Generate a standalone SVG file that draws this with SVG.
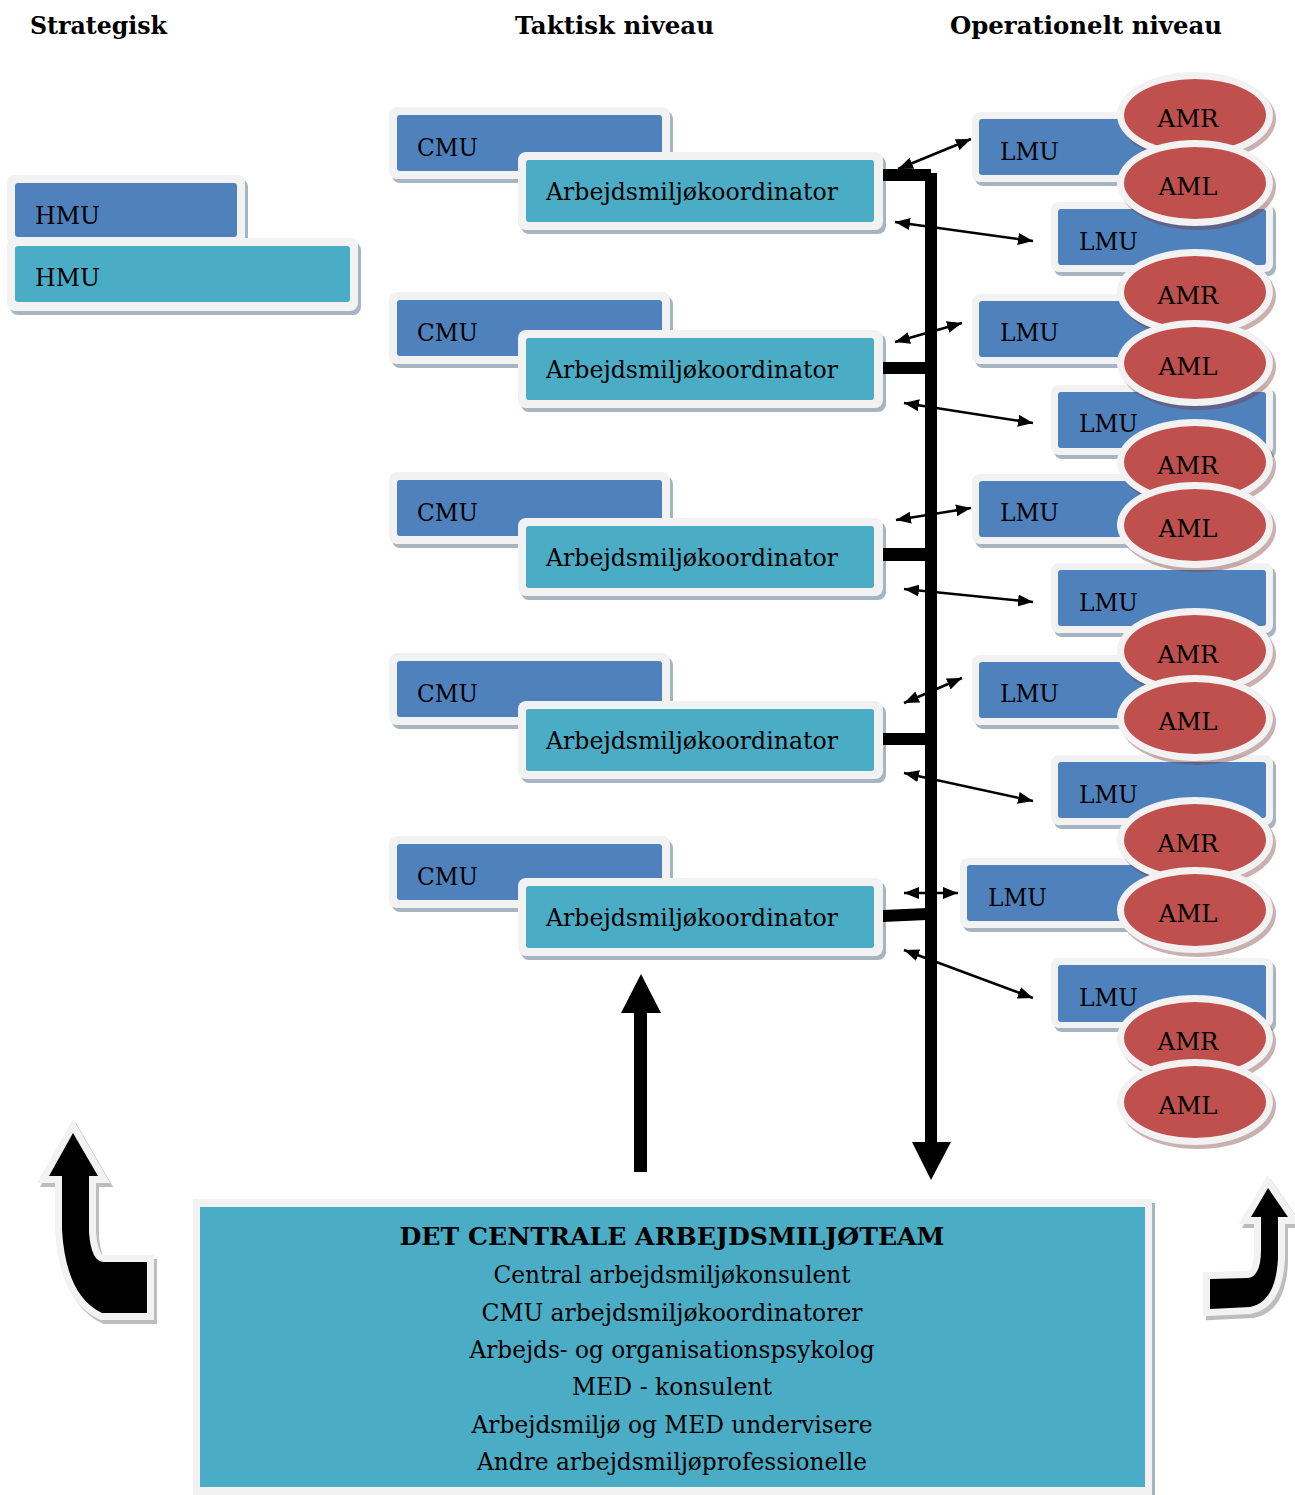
<svg xmlns="http://www.w3.org/2000/svg" width="1295" height="1495" viewBox="0 0 1295 1495">
<defs>
<style>
.fr{fill:#f2f2f2}
.sh{fill:#3c5a78;opacity:0.45}
.esh{fill:#7a3a3a;opacity:0.4}
.blue{fill:#4f81bd}
.teal{fill:#4bacc6}
.red{fill:#c0504d}
.t{font-family:"DejaVu Serif","Liberation Serif",serif;font-size:25px;fill:#000}
.h{font-family:"DejaVu Serif","Liberation Serif",serif;font-size:25px;font-weight:bold;fill:#000}
.c{text-anchor:middle}
.thin{stroke:#000;stroke-width:2.5;fill:none;marker-start:url(#ah);marker-end:url(#ah)}
.blk{fill:#000}
.out{fill:#000;stroke:#f2f2f2;stroke-width:14;stroke-linejoin:miter;paint-order:stroke}
.outsh{fill:#bdbdbd;stroke:#bdbdbd;stroke-width:14;stroke-linejoin:miter}
</style>
<marker id="ah" viewBox="0 0 15 12" refX="15" refY="6" markerWidth="15" markerHeight="12" markerUnits="userSpaceOnUse" orient="auto-start-reverse">
<path d="M0,0 L15,6 L0,12 Z" fill="#000"/>
</marker>
</defs>
<rect width="1295" height="1495" fill="#fff"/>

<g id="headers">
<text class="h" x="30" y="34" textLength="137" lengthAdjust="spacingAndGlyphs">Strategisk</text>
<text class="h" x="515" y="34" textLength="199" lengthAdjust="spacingAndGlyphs">Taktisk niveau</text>
<text class="h" x="950" y="34" textLength="272" lengthAdjust="spacingAndGlyphs">Operationelt niveau</text>
</g>

<g id="hmu1">
<rect class="sh" x="10" y="179" width="238" height="70" rx="8"/>
<rect class="fr" x="7" y="175" width="238" height="70" rx="8"/>
<rect class="blue" x="15" y="183" width="222" height="54" rx="3"/>
<text class="t" x="35" y="224" textLength="65" lengthAdjust="spacingAndGlyphs">HMU</text>
</g>
<g id="hmu2">
<rect class="sh" x="10" y="242" width="351" height="73" rx="8"/>
<rect class="fr" x="7" y="238" width="351" height="73" rx="8"/>
<rect class="teal" x="15" y="246" width="335" height="56" rx="3"/>
<text class="t" x="35" y="286" textLength="65" lengthAdjust="spacingAndGlyphs">HMU</text>
</g>

<g id="cmu1">
<rect class="sh" x="392" y="111" width="281" height="72" rx="8"/>
<rect class="fr" x="389" y="107" width="281" height="72" rx="8"/>
<rect class="blue" x="397" y="115" width="265" height="56" rx="3"/>
<text class="t" x="417" y="156" textLength="61" lengthAdjust="spacingAndGlyphs">CMU</text>
</g>
<g id="akoord1">
<rect class="sh" x="521" y="156" width="365" height="78" rx="8"/>
<rect class="fr" x="518" y="152" width="365" height="78" rx="8"/>
<rect class="teal" x="526" y="160" width="348" height="62" rx="3"/>
<text class="t" x="546" y="200" textLength="292" lengthAdjust="spacingAndGlyphs">Arbejdsmiljøkoordinator</text>
</g>

<g id="cmu2">
<rect class="sh" x="392" y="296" width="281" height="72" rx="8"/>
<rect class="fr" x="389" y="292" width="281" height="72" rx="8"/>
<rect class="blue" x="397" y="300" width="265" height="56" rx="3"/>
<text class="t" x="417" y="341" textLength="61" lengthAdjust="spacingAndGlyphs">CMU</text>
</g>
<g id="akoord2">
<rect class="sh" x="521" y="334" width="365" height="78" rx="8"/>
<rect class="fr" x="518" y="330" width="365" height="78" rx="8"/>
<rect class="teal" x="526" y="338" width="348" height="62" rx="3"/>
<text class="t" x="546" y="378" textLength="292" lengthAdjust="spacingAndGlyphs">Arbejdsmiljøkoordinator</text>
</g>

<g id="cmu3">
<rect class="sh" x="392" y="476" width="281" height="72" rx="8"/>
<rect class="fr" x="389" y="472" width="281" height="72" rx="8"/>
<rect class="blue" x="397" y="480" width="265" height="56" rx="3"/>
<text class="t" x="417" y="521" textLength="61" lengthAdjust="spacingAndGlyphs">CMU</text>
</g>
<g id="akoord3">
<rect class="sh" x="521" y="522" width="365" height="78" rx="8"/>
<rect class="fr" x="518" y="518" width="365" height="78" rx="8"/>
<rect class="teal" x="526" y="526" width="348" height="62" rx="3"/>
<text class="t" x="546" y="566" textLength="292" lengthAdjust="spacingAndGlyphs">Arbejdsmiljøkoordinator</text>
</g>

<g id="cmu4">
<rect class="sh" x="392" y="657" width="281" height="72" rx="8"/>
<rect class="fr" x="389" y="653" width="281" height="72" rx="8"/>
<rect class="blue" x="397" y="661" width="265" height="56" rx="3"/>
<text class="t" x="417" y="702" textLength="61" lengthAdjust="spacingAndGlyphs">CMU</text>
</g>
<g id="akoord4">
<rect class="sh" x="521" y="705" width="365" height="78" rx="8"/>
<rect class="fr" x="518" y="701" width="365" height="78" rx="8"/>
<rect class="teal" x="526" y="709" width="348" height="62" rx="3"/>
<text class="t" x="546" y="749" textLength="292" lengthAdjust="spacingAndGlyphs">Arbejdsmiljøkoordinator</text>
</g>

<g id="cmu5">
<rect class="sh" x="392" y="840" width="281" height="72" rx="8"/>
<rect class="fr" x="389" y="836" width="281" height="72" rx="8"/>
<rect class="blue" x="397" y="844" width="265" height="56" rx="3"/>
<text class="t" x="417" y="885" textLength="61" lengthAdjust="spacingAndGlyphs">CMU</text>
</g>
<g id="akoord5">
<rect class="sh" x="521" y="882" width="365" height="78" rx="8"/>
<rect class="fr" x="518" y="878" width="365" height="78" rx="8"/>
<rect class="teal" x="526" y="886" width="348" height="62" rx="3"/>
<text class="t" x="546" y="926" textLength="292" lengthAdjust="spacingAndGlyphs">Arbejdsmiljøkoordinator</text>
</g>

<g id="lmu1">
<rect class="sh" x="975" y="116" width="222" height="70" rx="8"/>
<rect class="fr" x="972" y="112" width="222" height="70" rx="8"/>
<rect class="blue" x="979" y="119" width="208" height="56" rx="3"/>
<text class="t" x="1000" y="160" textLength="59" lengthAdjust="spacingAndGlyphs">LMU</text>
</g>
<g id="lmu2">
<rect class="sh" x="1054" y="206" width="222" height="70" rx="8"/>
<rect class="fr" x="1051" y="202" width="222" height="70" rx="8"/>
<rect class="blue" x="1058" y="209" width="208" height="56" rx="3"/>
<text class="t" x="1079" y="250" textLength="59" lengthAdjust="spacingAndGlyphs">LMU</text>
</g>
<g id="lmu3">
<rect class="sh" x="975" y="298" width="222" height="70" rx="8"/>
<rect class="fr" x="972" y="294" width="222" height="70" rx="8"/>
<rect class="blue" x="979" y="301" width="208" height="56" rx="3"/>
<text class="t" x="1000" y="341" textLength="59" lengthAdjust="spacingAndGlyphs">LMU</text>
</g>
<g id="lmu4">
<rect class="sh" x="1054" y="389" width="222" height="70" rx="8"/>
<rect class="fr" x="1051" y="385" width="222" height="70" rx="8"/>
<rect class="blue" x="1058" y="392" width="208" height="56" rx="3"/>
<text class="t" x="1079" y="432" textLength="59" lengthAdjust="spacingAndGlyphs">LMU</text>
</g>
<g id="lmu5">
<rect class="sh" x="975" y="478" width="222" height="70" rx="8"/>
<rect class="fr" x="972" y="474" width="222" height="70" rx="8"/>
<rect class="blue" x="979" y="481" width="208" height="56" rx="3"/>
<text class="t" x="1000" y="521" textLength="59" lengthAdjust="spacingAndGlyphs">LMU</text>
</g>
<g id="lmu6">
<rect class="sh" x="1054" y="567" width="222" height="70" rx="8"/>
<rect class="fr" x="1051" y="563" width="222" height="70" rx="8"/>
<rect class="blue" x="1058" y="570" width="208" height="56" rx="3"/>
<text class="t" x="1079" y="611" textLength="59" lengthAdjust="spacingAndGlyphs">LMU</text>
</g>
<g id="lmu7">
<rect class="sh" x="975" y="659" width="222" height="70" rx="8"/>
<rect class="fr" x="972" y="655" width="222" height="70" rx="8"/>
<rect class="blue" x="979" y="662" width="208" height="56" rx="3"/>
<text class="t" x="1000" y="702" textLength="59" lengthAdjust="spacingAndGlyphs">LMU</text>
</g>
<g id="lmu8">
<rect class="sh" x="1054" y="759" width="222" height="70" rx="8"/>
<rect class="fr" x="1051" y="755" width="222" height="70" rx="8"/>
<rect class="blue" x="1058" y="762" width="208" height="56" rx="3"/>
<text class="t" x="1079" y="803" textLength="59" lengthAdjust="spacingAndGlyphs">LMU</text>
</g>
<g id="lmu9">
<rect class="sh" x="963" y="862" width="222" height="70" rx="8"/>
<rect class="fr" x="960" y="858" width="222" height="70" rx="8"/>
<rect class="blue" x="967" y="865" width="208" height="56" rx="3"/>
<text class="t" x="988" y="906" textLength="59" lengthAdjust="spacingAndGlyphs">LMU</text>
</g>
<g id="lmu10">
<rect class="sh" x="1054" y="962" width="222" height="70" rx="8"/>
<rect class="fr" x="1051" y="958" width="222" height="70" rx="8"/>
<rect class="blue" x="1058" y="965" width="208" height="57" rx="3"/>
<text class="t" x="1079" y="1006" textLength="59" lengthAdjust="spacingAndGlyphs">LMU</text>
</g>

<g id="amr1"><ellipse class="esh" cx="1198" cy="119" rx="78" ry="43"/><ellipse class="fr" cx="1195" cy="115" rx="78" ry="43"/><ellipse class="red" cx="1195" cy="115" rx="71" ry="36"/><text class="t c" x="1188" y="127" textLength="61" lengthAdjust="spacingAndGlyphs">AMR</text></g>
<g id="aml1"><ellipse class="esh" cx="1198" cy="187" rx="78" ry="43"/><ellipse class="fr" cx="1195" cy="183" rx="78" ry="43"/><ellipse class="red" cx="1195" cy="183" rx="71" ry="36"/><text class="t c" x="1188" y="195" textLength="59" lengthAdjust="spacingAndGlyphs">AML</text></g>
<g id="amr2"><ellipse class="esh" cx="1198" cy="296" rx="78" ry="43"/><ellipse class="fr" cx="1195" cy="292" rx="78" ry="43"/><ellipse class="red" cx="1195" cy="292" rx="71" ry="36"/><text class="t c" x="1188" y="304" textLength="61" lengthAdjust="spacingAndGlyphs">AMR</text></g>
<g id="aml2"><ellipse class="esh" cx="1198" cy="367" rx="78" ry="43"/><ellipse class="fr" cx="1195" cy="363" rx="78" ry="43"/><ellipse class="red" cx="1195" cy="363" rx="71" ry="36"/><text class="t c" x="1188" y="375" textLength="59" lengthAdjust="spacingAndGlyphs">AML</text></g>
<g id="amr3"><ellipse class="esh" cx="1198" cy="466" rx="78" ry="43"/><ellipse class="fr" cx="1195" cy="462" rx="78" ry="43"/><ellipse class="red" cx="1195" cy="462" rx="71" ry="36"/><text class="t c" x="1188" y="474" textLength="61" lengthAdjust="spacingAndGlyphs">AMR</text></g>
<g id="aml3"><ellipse class="esh" cx="1198" cy="529" rx="78" ry="43"/><ellipse class="fr" cx="1195" cy="525" rx="78" ry="43"/><ellipse class="red" cx="1195" cy="525" rx="71" ry="36"/><text class="t c" x="1188" y="537" textLength="59" lengthAdjust="spacingAndGlyphs">AML</text></g>
<g id="amr4"><ellipse class="esh" cx="1198" cy="655" rx="78" ry="43"/><ellipse class="fr" cx="1195" cy="651" rx="78" ry="43"/><ellipse class="red" cx="1195" cy="651" rx="71" ry="36"/><text class="t c" x="1188" y="663" textLength="61" lengthAdjust="spacingAndGlyphs">AMR</text></g>
<g id="aml4"><ellipse class="esh" cx="1198" cy="722" rx="78" ry="43"/><ellipse class="fr" cx="1195" cy="718" rx="78" ry="43"/><ellipse class="red" cx="1195" cy="718" rx="71" ry="36"/><text class="t c" x="1188" y="730" textLength="59" lengthAdjust="spacingAndGlyphs">AML</text></g>
<g id="amr5"><ellipse class="esh" cx="1198" cy="844" rx="78" ry="43"/><ellipse class="fr" cx="1195" cy="840" rx="78" ry="43"/><ellipse class="red" cx="1195" cy="840" rx="71" ry="36"/><text class="t c" x="1188" y="852" textLength="61" lengthAdjust="spacingAndGlyphs">AMR</text></g>
<g id="aml5"><ellipse class="esh" cx="1198" cy="914" rx="78" ry="43"/><ellipse class="fr" cx="1195" cy="910" rx="78" ry="43"/><ellipse class="red" cx="1195" cy="910" rx="71" ry="36"/><text class="t c" x="1188" y="922" textLength="59" lengthAdjust="spacingAndGlyphs">AML</text></g>
<g id="amr6"><ellipse class="esh" cx="1198" cy="1042" rx="78" ry="43"/><ellipse class="fr" cx="1195" cy="1038" rx="78" ry="43"/><ellipse class="red" cx="1195" cy="1038" rx="71" ry="36"/><text class="t c" x="1188" y="1050" textLength="61" lengthAdjust="spacingAndGlyphs">AMR</text></g>
<g id="aml6"><ellipse class="esh" cx="1198" cy="1106" rx="78" ry="43"/><ellipse class="fr" cx="1195" cy="1102" rx="78" ry="43"/><ellipse class="red" cx="1195" cy="1102" rx="71" ry="36"/><text class="t c" x="1188" y="1114" textLength="59" lengthAdjust="spacingAndGlyphs">AML</text></g>

<g id="team">
<rect class="sh" x="196" y="1203" width="959" height="300"/>
<rect class="fr" x="193" y="1199" width="959" height="300"/>
<rect class="teal" x="200" y="1207" width="945" height="280"/>
<text class="h c" x="672" y="1245" textLength="545" lengthAdjust="spacingAndGlyphs">DET CENTRALE ARBEJDSMILJØTEAM</text>
<text class="t c" x="672" y="1283" textLength="357" lengthAdjust="spacingAndGlyphs">Central arbejdsmiljøkonsulent</text>
<text class="t c" x="672" y="1321" textLength="381" lengthAdjust="spacingAndGlyphs">CMU arbejdsmiljøkoordinatorer</text>
<text class="t c" x="672" y="1358" textLength="405" lengthAdjust="spacingAndGlyphs">Arbejds- og organisationspsykolog</text>
<text class="t c" x="672" y="1395" textLength="200" lengthAdjust="spacingAndGlyphs">MED - konsulent</text>
<text class="t c" x="672" y="1433" textLength="401" lengthAdjust="spacingAndGlyphs">Arbejdsmiljø og MED undervisere</text>
<text class="t c" x="672" y="1470" textLength="390" lengthAdjust="spacingAndGlyphs">Andre arbejdsmiljøprofessionelle</text>
</g>

<g id="connectors">
<rect class="blk" x="883" y="169" width="48" height="12"/>
<rect class="blk" x="925" y="173" width="12" height="972"/>
<polygon class="blk" points="912,1142 951,1142 931,1180"/>
<rect class="blk" x="883" y="362" width="44" height="12"/>
<rect class="blk" x="883" y="548" width="44" height="13"/>
<rect class="blk" x="883" y="733" width="44" height="12"/>
<polygon class="blk" points="883,910 927,908 927,920 883,922"/>
<line class="thin" x1="898" y1="169" x2="971" y2="139"/>
<line class="thin" x1="895" y1="222" x2="1033" y2="241"/>
<line class="thin" x1="895" y1="342" x2="962" y2="323"/>
<line class="thin" x1="904" y1="403" x2="1033" y2="423"/>
<line class="thin" x1="896" y1="520" x2="971" y2="508"/>
<line class="thin" x1="904" y1="589" x2="1033" y2="602"/>
<line class="thin" x1="904" y1="703" x2="962" y2="678"/>
<line class="thin" x1="904" y1="773" x2="1033" y2="801"/>
<line class="thin" x1="904" y1="893" x2="958" y2="893"/>
<line class="thin" x1="904" y1="950" x2="1033" y2="998"/>
<rect class="blk" x="634" y="1012" width="13" height="160"/>
<polygon class="blk" points="621,1013 661,1013 641,974"/>
<path class="outsh" transform="translate(3,4)" d="M73,1133 L98,1176 L89,1176 L89,1232 Q91,1262 104,1262 L147,1262 L147,1313 L102,1313 Q66,1296 62,1230 L62,1176 L49,1176 Z"/>
<path class="out" d="M73,1133 L98,1176 L89,1176 L89,1232 Q91,1262 104,1262 L147,1262 L147,1313 L102,1313 Q66,1296 62,1230 L62,1176 L49,1176 Z"/>
<path class="outsh" transform="translate(3,4)" d="M1268,1188 L1288,1217 L1278,1217 L1278,1258 Q1276,1302 1250,1307 L1210,1309 L1210,1279 L1248,1278 Q1261,1276 1261,1250 L1261,1217 L1251,1217 Z"/>
<path class="out" d="M1268,1188 L1288,1217 L1278,1217 L1278,1258 Q1276,1302 1250,1307 L1210,1309 L1210,1279 L1248,1278 Q1261,1276 1261,1250 L1261,1217 L1251,1217 Z"/>
</g>
</svg>
